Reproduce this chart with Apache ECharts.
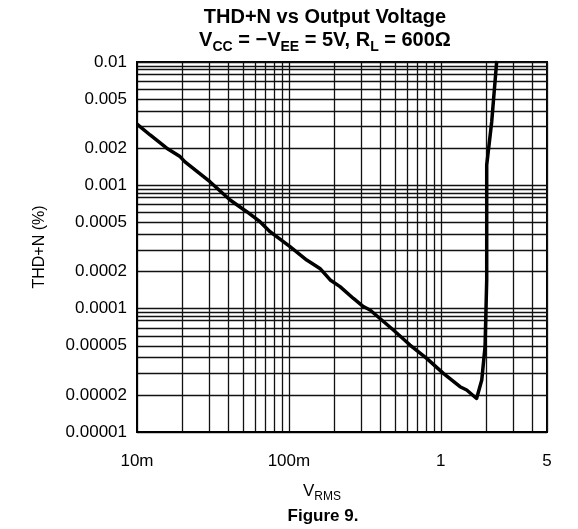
<!DOCTYPE html>
<html><head><meta charset="utf-8">
<script src="https://cdn.jsdelivr.net/npm/echarts@6/dist/echarts.min.js"></script>
<style>html,body{margin:0;padding:0;background:#fff}#c{width:578px;height:529px}</style>
</head><body><div id="c"></div>
<script>
// ---- data ----
const vRms = [0.0100, 0.0122, 0.0157, 0.0192, 0.0207, 0.0302, 0.0410, 0.0528, 0.0645, 0.0751,
  0.1017, 0.131, 0.160, 0.187, 0.217, 0.266, 0.309, 0.342, 0.487, 0.627, 0.807, 1.039,
  1.338, 1.48, 1.72, 1.86, 1.955, 2.005, 2.005, 2.163, 2.334];
const thdN = [0.00314, 0.00256, 0.00200, 0.00171, 0.00155, 0.00107, 0.00076, 0.000611, 0.000507, 0.000421,
  0.000318, 0.000248, 0.000212, 0.000171, 0.000151, 0.000121, 0.000104, 0.0000975, 0.0000671, 0.0000507, 0.0000395, 0.0000299,
  0.0000233, 0.0000219, 0.0000187, 0.0000264, 0.0000491, 0.000171, 0.00146, 0.00328, 0.0102];
const xGridValues = [0.01,0.02,0.03,0.04,0.05,0.06,0.07,0.08,0.09,0.1,0.2,0.3,0.4,0.5,0.6,0.7,0.8,0.9,1,2,3,4,5];
const xLabelValues = [0.01, 0.1, 1, 5];
const xLabelTexts = ['10m', '100m', '1', '5'];
const yGridValues = [0.00001,0.00002,0.00003,0.00004,0.00005,0.00006,0.00007,0.00008,0.000087,0.000093,
  0.0001,0.0002,0.0003,0.0004,0.0005,0.0006,0.0007,0.0008,0.00087,0.00093,
  0.001,0.002,0.003,0.004,0.005,0.006,0.007,0.008,0.0087,0.0093,0.01];
const yLabelValues = [0.00001,0.00002,0.00005,0.0001,0.0002,0.0005,0.001,0.002,0.005,0.01];
const yLabelTexts = ['0.00001','0.00002','0.00005','0.0001','0.0002','0.0005','0.001','0.002','0.005','0.01'];

function lookup(values, texts) {
  return function (v) {
    for (let i = 0; i < values.length; i++) {
      if (Math.abs(Math.log10(v) - Math.log10(values[i])) < 1e-6) return texts[i];
    }
    return '';
  };
}
const FONT = 'Liberation Sans';
const chart = echarts.init(document.getElementById('c'), null, {renderer: 'canvas'});
chart.setOption({
  animation: false,
  backgroundColor: '#fff',
  title: [{
    text: 'THD+N vs Output Voltage\n{n|V}{s|CC}{n| = \u2212V}{s|EE}{n| = 5V, R}{s|L}{n| = 600\u03A9}',
    left: 320, top: 3, textAlign: 'center',
    textStyle: {
      fontFamily: FONT, fontSize: 20, fontWeight: 'bold', color: '#000', lineHeight: 19,
      rich: {
        n: {fontFamily: FONT, fontSize: 20, fontWeight: 'bold', color: '#000', lineHeight: 27, verticalAlign: 'middle'},
        s: {fontFamily: FONT, fontSize: 14, fontWeight: 'bold', color: '#000', lineHeight: 14, padding: [13, 0, 0, 0], verticalAlign: 'top'}
      }
    }
  }, {
    text: 'Figure 9.', left: 318, top: 503, textAlign: 'center',
    textStyle: {fontFamily: FONT, fontSize: 17, fontWeight: 'bold', color: '#000'}
  }],
  grid: {left: 137, right: 31, top: 62, bottom: 97, show: true, borderColor: '#000', borderWidth: 2, containLabel: false},
  xAxis: {
    type: 'log', logBase: 10, min: 0.01, max: 5,
    name: '{v|V}{s|RMS}', nameLocation: 'middle', nameGap: 48,
    nameTextStyle: {
      padding: [0, 40, 0, 0],
      rich: {
        v: {fontFamily: FONT, fontSize: 17, color: '#000', lineHeight: 22, verticalAlign: 'middle'},
        s: {fontFamily: FONT, fontSize: 12, color: '#000', lineHeight: 12, padding: [11, 0, 0, 0], verticalAlign: 'top'}
      }
    },
    axisLine: {show: true, lineStyle: {color: '#000', width: 2}},
    axisTick: {show: false, customValues: xGridValues},
    axisLabel: {customValues: xLabelValues, formatter: lookup(xLabelValues, xLabelTexts),
      fontFamily: FONT, fontSize: 17, color: '#000', margin: 21},
    splitLine: {show: true, lineStyle: {color: '#111', width: 1.3}}
  },
  yAxis: {
    type: 'log', logBase: 10, min: 0.00001, max: 0.01,
    name: 'THD+N (%)', nameLocation: 'middle', nameGap: 89,
    nameTextStyle: {fontFamily: FONT, fontSize: 16, color: '#000'},
    axisLine: {show: true, lineStyle: {color: '#000', width: 2}},
    axisTick: {show: false, customValues: yGridValues},
    axisLabel: {customValues: yLabelValues, formatter: lookup(yLabelValues, yLabelTexts),
      fontFamily: FONT, fontSize: 17, color: '#000', margin: 10},
    splitLine: {show: true, lineStyle: {color: '#111', width: 1.3}}
  },
  series: [{
    type: 'line', data: vRms.map((v, i) => [v, thdN[i]]),
    showSymbol: false, symbol: 'none', clip: true,
    lineStyle: {color: '#000', width: 3.5, join: 'round'}
  }]
});
</script></body></html>
